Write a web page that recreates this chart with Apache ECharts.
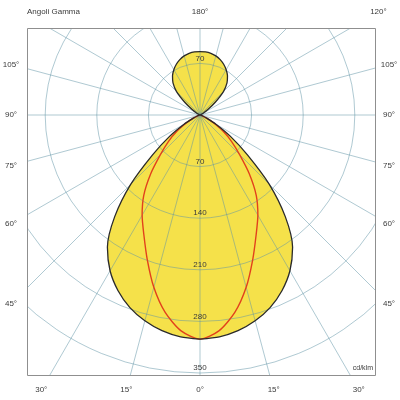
<!DOCTYPE html>
<html><head><meta charset="utf-8">
<script src="https://cdn.jsdelivr.net/npm/echarts@6/dist/echarts.min.js"></script>
<style>html,body{margin:0;padding:0;background:#fff}#c{width:400px;height:400px}</style>
</head><body><div id="c"></div>
<script>
// ---- data ----
const gammaAngles = [0,5,10,15,20,25,30,35,40,45,50,55,60,65,70,75,80,85,90,95,100,105,110,115,120,125,130,135,140,145,150,155,160,165,170,175,180];
const intensityC0 = [304,302,297,289,278,263,244,219,180,133,84,50,25,10,4,1,0,0,0,0,0,0,0,1,5,13,27,45,57,65,71,76,80,83,85,86,86];
const redAngles = [0,5,10,15,20,25,30,35,40,45,50,55,60,65,70,75,80,85,90];
const intensityC90 = [304,294,272,242,209,180,157,133,104,76,56,38,21,10,4,1,0,0,0];
const radiusTicks = [70,140,210,280,350];
const upperRadiusTicks = [70];
const angleTicksRight = [15,30,45,60,75,90,105,120];
const angleTicksLeft = [15,30,45,60,75,90,105];
const angleTicksCenter = [0,180];
const titleText = 'Angoli Gamma';
const unitText = 'cd/klm';

// ---- layout ----
const PX = 51.6/70;
const RMAX = 420;
const frame = {l:27, t:28, r:375, b:375};
const labelBox = {l:11, t:12, r:389, b:390};
const gridCol = 'rgba(95,148,165,0.5)';
const FONT = '"Liberation Sans", Arial, sans-serif';

const blackPath = [];
for (let i = 0; i < gammaAngles.length; i++) blackPath.push([intensityC0[i], gammaAngles[i]]);
for (let i = gammaAngles.length - 2; i >= 0; i--) blackPath.push([intensityC0[i], 360 - gammaAngles[i]]);
const redPath = [];
for (let i = redAngles.length - 1; i >= 1; i--) redPath.push([intensityC90[i], 360 - redAngles[i]]);
for (let i = 0; i < redAngles.length; i++) redPath.push([intensityC90[i], redAngles[i]]);

const chart = echarts.init(document.getElementById('c'), null, {renderer:'canvas'});
chart.setOption({
  animation: false,
  backgroundColor: '#fff',
  polar: { center: [200, 115], radius: RMAX * PX },
  angleAxis: {
    type: 'value', min: 0, max: 360, interval: 15, startAngle: 270, clockwise: true,
    axisLine: {show:false}, axisTick: {show:false}, axisLabel: {show:false},
    splitLine: {show:true, lineStyle:{color: gridCol, width: 1}}, z: 3
  },
  radiusAxis: {
    type: 'value', min: 0, max: RMAX, interval: 70,
    axisLine: {show:false}, axisTick: {show:false}, axisLabel: {show:false},
    splitLine: {show:true, lineStyle:{color: [gridCol,gridCol,gridCol,gridCol,gridCol,gridCol,'rgba(0,0,0,0)'], width: 1}}, z: 3
  },
  series: [
    { type:'line', coordinateSystem:'polar', data: blackPath, showSymbol:false, smooth:0.25,
      lineStyle:{width:0, opacity:0}, areaStyle:{color:'#f5e14a', opacity:1}, z:1, silent:true },
    { type:'line', coordinateSystem:'polar', data: redPath, showSymbol:false, smooth:0.25,
      lineStyle:{width:1.4, color:'#e2411c'}, z:5, silent:true },
    { type:'line', coordinateSystem:'polar', data: blackPath, showSymbol:false, smooth:0.25,
      lineStyle:{width:1.3, color:'#2a2a2a'}, z:6, silent:true }
  ]
});

const c0 = chart.convertToPixel({seriesIndex:0}, [0, 0]);
function rayLabel(angleVal) {
  const p = chart.convertToPixel({seriesIndex:0}, [350, angleVal]);
  const dx = p[0] - c0[0], dy = p[1] - c0[1];
  const ts = [];
  if (dx > 1e-6) ts.push((labelBox.r - c0[0]) / dx);
  if (dx < -1e-6) ts.push((labelBox.l - c0[0]) / dx);
  if (dy > 1e-6) ts.push((labelBox.b - c0[1]) / dy);
  if (dy < -1e-6) ts.push((labelBox.t - c0[1]) / dy);
  const t = Math.min.apply(null, ts);
  return [c0[0] + dx * t, c0[1] + dy * t];
}
const txtStyle = (text, x, y, align, vAlign, size) => ({
  type:'text', z:102, x, y,
  style:{text, fill:'#3a3a3a', font: (size||8) + 'px ' + FONT, textAlign: align||'center', textVerticalAlign: vAlign||'middle'}
});
const g = [];
// masks
g.push({type:'rect', z:100, shape:{x:0,y:0,width:400,height:frame.t}, style:{fill:'#fff'}});
g.push({type:'rect', z:100, shape:{x:0,y:frame.b,width:400,height:400-frame.b}, style:{fill:'#fff'}});
g.push({type:'rect', z:100, shape:{x:0,y:0,width:frame.l,height:400}, style:{fill:'#fff'}});
g.push({type:'rect', z:100, shape:{x:frame.r,y:0,width:400-frame.r,height:400}, style:{fill:'#fff'}});
g.push({type:'rect', z:101, shape:{x:frame.l+0.5,y:frame.t+0.5,width:frame.r-frame.l,height:frame.b-frame.t}, style:{fill:null, stroke:'#8f8f8f', lineWidth:1}});
// angle labels
angleTicksRight.forEach(a => { const p = rayLabel(360 - a); g.push(txtStyle(a + '°', p[0], p[1])); });
angleTicksLeft.forEach(a => { const p = rayLabel(a); g.push(txtStyle(a + '°', p[0], p[1])); });
angleTicksCenter.forEach(a => { const p = rayLabel(a); g.push(txtStyle(a + '°', p[0], p[1])); });
// radius labels
radiusTicks.forEach(r => { const p = chart.convertToPixel({seriesIndex:0}, [r, 0]); g.push(txtStyle(String(r), p[0], p[1] - 1, 'center', 'bottom')); });
upperRadiusTicks.forEach(r => { const p = chart.convertToPixel({seriesIndex:0}, [r, 180]); g.push(txtStyle(String(r), p[0], p[1] - 1, 'center', 'bottom')); });
g.push(txtStyle(titleText, frame.l, labelBox.t, 'left', 'middle'));
g.push(txtStyle(unitText, frame.r - 2, frame.b - 7, 'right', 'middle', 7));
chart.setOption({graphic: g});
</script></body></html>
